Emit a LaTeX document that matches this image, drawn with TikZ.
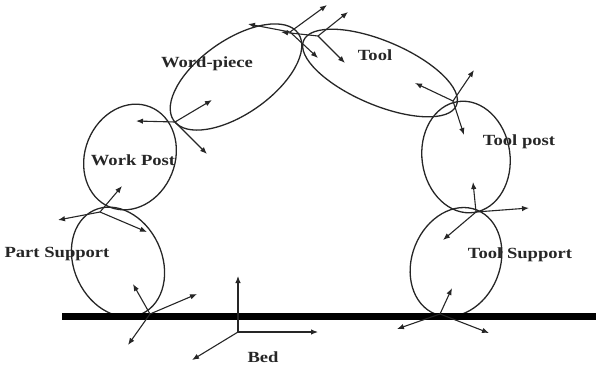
\documentclass[tikz,border=0pt]{standalone}
\usepackage{fontspec}
\setmainfont{Liberation Serif}[FakeStretch=1.2]
\usetikzlibrary{arrows.meta}
\begin{document}
\begin{tikzpicture}[x=1pt,y=-1pt,
  part/.style={draw=black!85, line width=1.3pt},
  vec/.style={draw=black!85, line width=1.1pt, -{Latex[length=7pt,width=5.5pt]}},
  bedline/.style={draw=black, line width=7pt},
  lbl/.style={font=\bfseries\fontsize{15.5}{18}\selectfont, inner sep=0pt, text=black!85}]
\useasboundingbox (0,0) rectangle (596,368);

% ellipses (machine parts)
\draw[part, rotate around={25:(118,262)}] (118,262) ellipse [x radius=44, y radius=57];
\draw[part, rotate around={-22:(130,157)}] (130,157) ellipse [x radius=45, y radius=54];
\draw[part, rotate around={35:(236,77)}] (236,77) ellipse [x radius=76, y radius=37];
\draw[part, rotate around={-23:(380,73)}] (380,73) ellipse [x radius=83, y radius=32];
\draw[part, rotate around={8:(466,157)}] (466,157) ellipse [x radius=44, y radius=56];
\draw[part, rotate around={-22:(456,262)}] (456,262) ellipse [x radius=44, y radius=56];

% bed
\coordinate (bedL) at (62,316);
\coordinate (bedR) at (596,316);
\draw[bedline] (bedL) -- (bedR);

% junctions
\coordinate (j1) at (150,314);
\coordinate (j2) at (100,212);
\coordinate (j3) at (175,122);
\coordinate (j4) at (290,32);
\coordinate (j5) at (318,36);
\coordinate (j6) at (453,101);
\coordinate (j7) at (476,212);
\coordinate (j8) at (440,314);
\coordinate (o) at (238,332);

% arrow ends
\coordinate (a1a) at (133,284); \coordinate (a1b) at (197,294); \coordinate (a1c) at (128,345);
\coordinate (a2a) at (122,186); \coordinate (a2b) at (58,220);  \coordinate (a2c) at (147,232);
\coordinate (a3a) at (136,121); \coordinate (a3b) at (212,100); \coordinate (a3c) at (207,154);
\coordinate (a4a) at (248,24);  \coordinate (a4b) at (327,5);   \coordinate (a4c) at (318,58);
\coordinate (a5a) at (348,12);  \coordinate (a5b) at (345,63);  \coordinate (a5c) at (281,32);
\coordinate (a6a) at (415,83);  \coordinate (a6b) at (474,70);  \coordinate (a6c) at (464,135);
\coordinate (a7a) at (473,182); \coordinate (a7b) at (529,208); \coordinate (a7c) at (443,240);
\coordinate (a8a) at (452,288); \coordinate (a8b) at (397,329); \coordinate (a8c) at (489,333);
\coordinate (oz) at (238,276);  \coordinate (ox) at (318,332);  \coordinate (oy) at (192,360);

\foreach \j/\t in {j1/a1a,j1/a1b,j1/a1c,j2/a2a,j2/a2b,j2/a2c,j3/a3a,j3/a3b,j3/a3c,
  j4/a4a,j4/a4b,j4/a4c,j5/a5a,j5/a5b,j5/a5c,j6/a6a,j6/a6b,j6/a6c,
  j7/a7a,j7/a7b,j7/a7c,j8/a8a,j8/a8b,j8/a8c,o/oz,o/ox,o/oy}
  \draw[vec] (\j) -- (\t);

% labels
\node[lbl] (lps) at (57,254) {Part Support};
\node[lbl] (lwp) at (133,160) {Work Post};
\node[lbl] (lwc) at (207,64) {Word-piece};
\node[lbl] (lt)  at (375,55) {Tool};
\node[lbl] (ltp) at (519,142) {Tool post};
\node[lbl] (lts) at (520,255) {Tool Support};
\node[lbl] (lb)  at (263,357) {Bed};
\end{tikzpicture}
\end{document}
